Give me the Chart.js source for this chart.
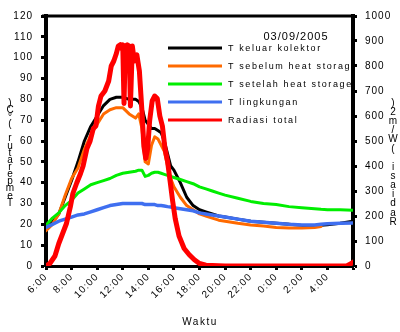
<!DOCTYPE html>
<html>
<head>
<meta charset="utf-8">
<script src="https://cdn.jsdelivr.net/npm/chart.js@4.4.1/dist/chart.umd.min.js"></script>
<style>
  html, body { margin: 0; padding: 0; background: #fff; }
</style>
</head>
<body>
<canvas id="c" width="400" height="332"></canvas>
<script>
// jam pengukuran (6 = 06:00, 24 = 00:00 hari berikutnya)
const tempHours = [6, 6.5, 7, 7.5, 8, 8.5, 9, 9.5, 10, 10.5,
  11, 11.5, 12, 12.5, 13, 13.25, 13.5, 13.75, 14, 14.25,
  14.5, 14.75, 15, 15.25, 15.5, 15.75, 16, 16.5, 17, 17.5,
  18, 18.5, 19, 19.5, 20, 21, 22, 23, 24, 25,
  26, 27, 27.5, 28, 29, 30];

const tKeluar = [18, 21, 25, 33, 41, 50, 60, 67, 72, 77,
  80, 81, 81, 80, 80, 79, 76, 70, 68, 66,
  66, 65, 64, 60, 54, 48, 46, 40, 33, 29,
  27, 26, 25, 24, 23.5, 22.5, 21.5, 21, 20.5, 20,
  19.5, 19.5, 19.5, 19.8, 20.5, 21.5];

const tSebelum = [17, 20, 25, 34, 42, 47, 56, 63, 68, 73,
  75, 76, 76, 73, 71, 73, 66, 50, 49, 58,
  62, 61, 58, 55, 48, 42, 38, 33, 29, 27,
  25, 24, 23, 22, 21.5, 20.5, 19.7, 19.2, 18.5, 18.2,
  18.2, 18.5, 19, null, null, null];

const tSetelah = [19.5, 23, 25.5, 29, 31.5, 35, 37, 39, 40, 41,
  42, 43.5, 44.5, 45, 45.5, 46, 46, 43, 43.5, 44.5,
  45, 45, 44.5, 44, 43.5, 43, 42.5, 41.5, 40.5, 39.5,
  38, 37, 36, 35, 34, 32.5, 31, 30, 29.5, 28.5,
  28, 27.5, 27.2, 27, 27, 26.8];

const tLingkungan = [18.5, 20, 21.5, 22.5, 23.5, 24.5, 25, 26, 27, 28,
  29, 29.5, 30, 30, 30, 30, 30, 29.5, 29.5, 29.5,
  29.5, 29, 29, 28.8, 28.5, 28.3, 28, 27.5, 27, 26.5,
  25.5, 25, 24.5, 24, 23.5, 22.5, 21.5, 21, 20.5, 20,
  19.7, 19.7, 20, 20.3, 20.5, 20.6];

const radHours = [6, 6.3, 6.7, 7, 7.3, 7.6, 7.9, 8.1, 8.4, 8.7,
  8.9, 9.2, 9.45, 9.7, 9.9, 10.1, 10.3, 10.6, 10.9, 11.1,
  11.3, 11.5, 11.65, 11.8, 11.9, 12, 12.1, 12.2, 12.35, 12.5,
  12.6, 12.75, 12.9, 13.1, 13.3, 13.5, 13.65, 13.8, 13.95, 14.1,
  14.3, 14.5, 14.7, 14.9, 15.1, 15.3, 15.5, 15.7, 15.9, 16.1,
  16.4, 16.8, 17.2, 17.6, 18, 18.5, 20, 22, 24, 26,
  28, 29.5, 29.8, 30];

const radiasi = [0, 10, 40, 90, 130, 170, 236, 290, 332, 370,
  400, 470, 500, 550, 560, 640, 680, 700, 740, 800,
  820, 850, 880, 885, 870, 885, 650, 880, 885, 880,
  640, 880, 820, 845, 780, 620, 480, 430, 470, 580,
  660, 680, 670, 600, 560, 470, 420, 340, 260, 190,
  120, 70, 45, 25, 10, 3, 0, 0, 0, 0,
  0, 0, 8, 15];

const xTickLabels = ["6:00", "8:00", "10:00", "12:00", "14:00", "16:00", "18:00",
  "20:00", "22:00", "0:00", "2:00", "4:00", ""];

const seriesLabels = ["T keluar kolektor", "T sebelum heat storage", "T setelah heat storage",
  "T lingkungan", "Radiasi total"];

const chartTitle = "03/09/2005";
const FONT = "'Liberation Sans', Arial, sans-serif";

const pts = (xs, ys) => xs.map((x, i) => ({ x, y: ys[i] }));

const spacing = {
  id: "spacing",
  beforeDraw(chart) {
    chart.ctx.letterSpacing = "1px";
  },
};

const frame = {
  id: "frame",
  beforeDatasetsDraw(chart) {
    const { ctx, chartArea } = chart;
    ctx.save();
    ctx.strokeStyle = "#000";
    ctx.lineWidth = 3;
    ctx.beginPath();
    ctx.moveTo(chartArea.left - 4, chartArea.top);
    ctx.lineTo(chartArea.right + 2, chartArea.top);
    ctx.stroke();
    ctx.restore();
  },
};

function stacked(ctx, text, x, yTop, yBottom) {
  const chars = [...text].reverse();
  const step = (yBottom - yTop) / (chars.length - 1);
  chars.forEach((ch, i) => ctx.fillText(ch, x, yTop + i * step));
}

const annotations = {
  id: "annotations",
  afterDatasetsDraw(chart) {
    const { ctx, chartArea } = chart;
    ctx.save();
    ctx.beginPath();
    ctx.rect(chartArea.left, chartArea.top - 20, chartArea.right - chartArea.left - 2, 140);
    ctx.clip();
    ctx.fillStyle = "#000";
    ctx.letterSpacing = "1px";
    ctx.font = `11px ${FONT}`;
    ctx.textAlign = "center";
    ctx.textBaseline = "middle";
    ctx.fillText(chartTitle, 296, 37);
    ctx.font = `9px ${FONT}`;
    ctx.letterSpacing = "1.6px";
    ctx.textAlign = "left";
    chart.data.datasets.forEach((ds, i) => {
      const y = 48 + i * 18;
      ctx.strokeStyle = ds.borderColor;
      ctx.lineWidth = 3;
      ctx.beginPath();
      ctx.moveTo(168, y);
      ctx.lineTo(222, y);
      ctx.stroke();
      ctx.fillText(ds.label, 228, y + 1);
    });
    ctx.restore();
  },
  afterDraw(chart) {
    const { ctx } = chart;
    ctx.save();
    ctx.fillStyle = "#000";
    ctx.font = `10px ${FONT}`;
    ctx.textAlign = "center";
    ctx.textBaseline = "middle";
    ctx.letterSpacing = "0px";
    stacked(ctx, "Temperatur (°C)", 10, 103, 203);
    stacked(ctx, "Radiasi (W/m2)", 393, 103, 222);
    ctx.letterSpacing = "1.5px";
    ctx.fillText("Waktu", 200, 322);
    ctx.restore();
  },
};

const tickFont = { size: 10, family: FONT };

new Chart(document.getElementById("c"), {
  type: "line",
  data: {
    datasets: [
      { label: seriesLabels[0], data: pts(tempHours, tKeluar), borderColor: "#000000", borderWidth: 3, order: 5, yAxisID: "y" },
      { label: seriesLabels[1], data: pts(tempHours, tSebelum), borderColor: "#ff6a00", borderWidth: 3, order: 4, yAxisID: "y", spanGaps: false },
      { label: seriesLabels[2], data: pts(tempHours, tSetelah), borderColor: "#00ee00", borderWidth: 3, order: 3, yAxisID: "y" },
      { label: seriesLabels[3], data: pts(tempHours, tLingkungan), borderColor: "#3f6ff0", borderWidth: 3.5, order: 2, yAxisID: "y" },
      { label: seriesLabels[4], data: pts(radHours, radiasi), borderColor: "#ff0000", borderWidth: 5, order: 1, yAxisID: "y1" },
    ],
  },
  options: {
    responsive: false,
    animation: false,
    layout: { padding: { top: 16 } },
    elements: { point: { radius: 0 }, line: { tension: 0, borderJoinStyle: "round", borderCapStyle: "round" } },
    plugins: { legend: { display: false }, tooltip: { enabled: false } },
    scales: {
      x: {
        type: "linear",
        min: 6,
        max: 30,
        ticks: {
          stepSize: 2,
          autoSkip: false,
          minRotation: 45,
          maxRotation: 45,
          padding: 1,
          color: "#000",
          font: tickFont,
          callback: (v, i) => xTickLabels[i],
        },
        grid: { drawOnChartArea: false, tickLength: 4, tickWidth: 3, tickColor: "#000" },
        border: { color: "#000", width: 3 },
        afterFit: (s) => { s.height = 66; },
      },
      y: {
        position: "left",
        min: 0,
        max: 120,
        ticks: { stepSize: 10, padding: 8, color: "#000", font: tickFont, callback: (v) => String(v) },
        grid: { drawOnChartArea: false, tickLength: 5, tickWidth: 3, tickColor: "#000" },
        border: { color: "#000", width: 4 },
        afterFit: (s) => { s.width = 46; },
      },
      y1: {
        position: "right",
        min: 0,
        max: 1000,
        ticks: { stepSize: 100, padding: 8, color: "#000", font: tickFont, callback: (v) => String(v) },
        grid: { drawOnChartArea: false, tickLength: 4, tickWidth: 3, tickColor: "#000" },
        border: { color: "#000", width: 4 },
        afterFit: (s) => { s.width = 47; },
      },
    },
  },
  plugins: [spacing, frame, annotations],
});
</script>
</body>
</html>
